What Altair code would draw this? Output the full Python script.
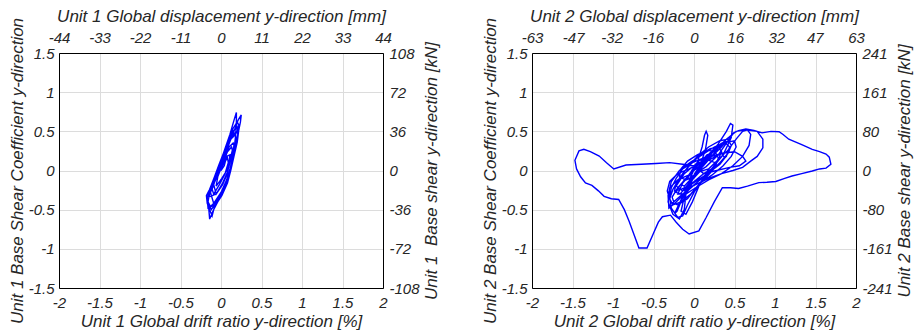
import altair as alt
import pandas as pd

# Hysteresis response, (drift ratio [%], base shear coefficient) in load order
u1_loop = [
    (0.00, 0.00), (0.04, 0.06), (0.06, 0.14), (0.03, 0.10), (-0.01, 0.00), (-0.04, -0.08),
    (-0.06, -0.20), (0.01, -0.10), (0.07, 0.00), (0.10, 0.10), (0.11, 0.20),
    (0.07, 0.18), (0.02, 0.08), (-0.02, 0.00), (-0.06, -0.10), (-0.09, -0.18),
    (-0.06, -0.30), (0.02, -0.18), (0.07, -0.06), (0.10, 0.06), (0.14, 0.20), (0.16, 0.32),
    (0.15, 0.35), (0.10, 0.30), (0.05, 0.18), (0.00, 0.05), (-0.05, -0.08), (-0.10, -0.20),
    (-0.13, -0.28),
    (-0.09, -0.42), (0.00, -0.28), (0.07, -0.12), (0.11, 0.02), (0.15, 0.18), (0.19, 0.34),
    (0.21, 0.46), (0.19, 0.50), (0.14, 0.44), (0.08, 0.30), (0.02, 0.14), (-0.04, 0.00),
    (-0.10, -0.14), (-0.15, -0.28), (-0.17, -0.38),
    (-0.12, -0.50), (-0.02, -0.36), (0.06, -0.20), (0.11, -0.04), (0.14, 0.12), (0.18, 0.30),
    (0.21, 0.46), (0.22, 0.58), (0.20, 0.62), (0.15, 0.54), (0.09, 0.38), (0.03, 0.22),
    (-0.03, 0.06), (-0.08, -0.08), (-0.14, -0.24), (-0.17, -0.36), (-0.16, -0.48),
    (-0.08, -0.44), (0.02, -0.28), (0.09, -0.10), (0.13, 0.08), (0.16, 0.26), (0.18, 0.44),
    (0.19, 0.60), (0.19, 0.74), (0.16, 0.64), (0.11, 0.46), (0.05, 0.28), (-0.01, 0.10),
    (-0.07, -0.06), (-0.13, -0.22), (-0.17, -0.36), (-0.15, -0.50), (-0.14, -0.62),
    (-0.10, -0.52), (-0.02, -0.36), (0.06, -0.18), (0.12, 0.00), (0.16, 0.18), (0.20, 0.36),
    (0.22, 0.52), (0.24, 0.62), (0.25, 0.71), (0.21, 0.64), (0.16, 0.50), (0.10, 0.34),
    (0.04, 0.16), (-0.03, -0.02), (-0.09, -0.16), (-0.15, -0.26), (-0.18, -0.32),
    (-0.17, -0.42), (-0.11, -0.58),
    (-0.08, -0.46), (0.01, -0.32), (0.08, -0.16), (0.12, 0.00), (0.16, 0.18), (0.19, 0.34),
    (0.21, 0.48), (0.20, 0.56), (0.15, 0.50), (0.09, 0.34), (0.03, 0.18), (-0.03, 0.02),
    (-0.09, -0.14), (-0.14, -0.28), (-0.16, -0.40), (-0.13, -0.46),
    (-0.05, -0.38), (0.03, -0.24), (0.09, -0.08), (0.12, 0.06), (0.16, 0.22), (0.19, 0.38),
    (0.18, 0.46), (0.12, 0.40), (0.06, 0.24), (0.00, 0.08), (-0.06, -0.08), (-0.12, -0.22),
    (-0.15, -0.34),
    (-0.06, -0.30), (0.02, -0.16), (0.08, -0.02), (0.11, 0.12), (0.14, 0.26), (0.13, 0.30),
    (0.08, 0.24), (0.03, 0.12), (-0.02, 0.00), (-0.07, -0.12), (-0.11, -0.24), (-0.09, -0.30),
    (-0.02, -0.18), (0.05, -0.04), (0.09, 0.10), (0.08, 0.16), (0.03, 0.08), (-0.01, 0.00),
]

u2_loop = [
    # small cycles around the origin
    (0.00, 0.00), (0.05, 0.04), (0.10, 0.10), (0.08, 0.14), (0.02, 0.08),
    (-0.04, -0.02), (-0.08, -0.08), (-0.05, -0.12), (0.02, -0.06), (0.10, 0.05),
    (0.18, 0.14), (0.22, 0.22), (0.16, 0.20), (0.06, 0.08), (-0.04, -0.04),
    (-0.12, -0.12), (-0.16, -0.18), (-0.12, -0.20), (-0.03, -0.10), (0.08, 0.04),
    (0.20, 0.16), (0.28, 0.26), (0.32, 0.32), (0.25, 0.28), (0.12, 0.14),
    (0.00, 0.02), (-0.10, -0.10), (-0.18, -0.20), (-0.22, -0.28), (-0.17, -0.30),
    (-0.06, -0.16), (0.08, 0.02), (0.22, 0.18), (0.34, 0.30), (0.40, 0.38),
    (0.33, 0.34), (0.18, 0.20), (0.04, 0.06), (-0.08, -0.08), (-0.20, -0.22),
    (-0.27, -0.34), (-0.25, -0.40), (-0.14, -0.30),
    (0.10, -0.10), (0.22, 0.02), (0.30, 0.14), (0.34, 0.24), (0.30, 0.30),
    (0.20, 0.28), (0.08, 0.20), (-0.04, 0.08), (-0.14, -0.04), (-0.22, -0.16),
    (-0.24, -0.26), (-0.16, -0.24), (-0.04, -0.18),
    (0.08, -0.10), (0.20, -0.02), (0.32, 0.10), (0.42, 0.22), (0.46, 0.32),
    (0.42, 0.40), (0.32, 0.38), (0.18, 0.30), (0.04, 0.18), (-0.08, 0.04),
    (-0.18, -0.10), (-0.26, -0.24), (-0.30, -0.36), (-0.26, -0.44), (-0.16, -0.40),
    (-0.04, -0.30),
    (0.08, -0.16), (0.22, -0.06), (0.36, 0.06), (0.46, 0.18), (0.52, 0.30),
    (0.50, 0.38), (0.40, 0.36), (0.26, 0.26), (0.12, 0.16), (-0.02, 0.10),
    (-0.14, 0.02), (-0.22, -0.10), (-0.28, -0.22),
    (-0.30, -0.34), (-0.28, -0.48), (-0.20, -0.60), (-0.14, -0.58), (-0.08, -0.44),
    (0.00, -0.28), (0.10, -0.12), (0.22, 0.00), (0.32, 0.08), (0.38, 0.16),
    (0.34, 0.22), (0.22, 0.18), (0.08, 0.10), (-0.06, 0.02), (-0.20, -0.04),
    (-0.30, -0.14), (-0.33, -0.26), (-0.29, -0.40), (-0.20, -0.44), (-0.08, -0.36),
    (0.04, -0.20), (0.16, -0.08), (0.26, 0.04), (0.30, 0.16), (0.26, 0.24),
    (0.16, 0.26), (0.04, 0.20), (-0.08, 0.12), (-0.16, 0.02), (-0.18, -0.08),
    (-0.10, -0.12), (0.00, -0.08),
    (-0.05, -0.05), (-0.20, -0.12), (-0.30, -0.22), (-0.32, -0.40), (-0.26, -0.56),
    (-0.18, -0.62), (-0.12, -0.50), (-0.10, -0.30), (-0.02, -0.12), (0.10, 0.02),
    # tall narrow loops
    (-0.05, -0.10), (0.04, 0.10), (0.10, 0.30), (0.13, 0.45), (0.15, 0.50),
    (0.17, 0.45), (0.14, 0.26), (0.08, 0.08), (0.00, -0.06), (-0.08, -0.20),
    (-0.18, -0.42), (-0.24, -0.55), (-0.21, -0.52), (-0.12, -0.30), (0.02, -0.02),
    (0.16, 0.16), (0.30, 0.34), (0.40, 0.50), (0.45, 0.60), (0.48, 0.58),
    (0.46, 0.42), (0.36, 0.20), (0.20, 0.00), (0.05, -0.14), (-0.10, -0.28),
    (-0.24, -0.42), (-0.31, -0.48), (-0.32, -0.32), (-0.28, -0.14), (-0.18, 0.00),
    (-0.05, 0.10), (0.10, 0.20), (0.25, 0.30), (0.38, 0.36), (0.44, 0.30),
    (0.40, 0.18), (0.28, 0.06), (0.12, -0.04), (-0.02, -0.16), (-0.12, -0.34),
    (-0.16, -0.52), (-0.10, -0.56), (-0.02, -0.40), (0.06, -0.20), (0.18, 0.02),
    (0.30, 0.14),
    # medium loops towards positive drift
    (0.42, 0.26), (0.52, 0.40), (0.60, 0.50), (0.66, 0.52), (0.70, 0.46),
    (0.68, 0.32), (0.60, 0.18), (0.48, 0.06), (0.34, -0.04), (0.18, -0.12),
    (0.02, -0.22), (-0.10, -0.30), (-0.20, -0.30), (-0.14, -0.16), (0.00, 0.00),
    (0.16, 0.12), (0.34, 0.22), (0.50, 0.24), (0.60, 0.18), (0.64, 0.12),
    (0.56, 0.06), (0.44, 0.04), (0.28, 0.00), (0.12, -0.04), (0.00, 0.06),
    # large cycle
    (-0.14, 0.08), (-0.30, 0.10), (-0.47, 0.09), (-0.65, 0.08), (-0.84, 0.07),
    (-0.99, 0.02), (-1.08, 0.10), (-1.17, 0.185), (-1.28, 0.24), (-1.36, 0.27),
    (-1.42, 0.25), (-1.47, 0.13), (-1.45, 0.02), (-1.40, -0.08), (-1.34, -0.16),
    (-1.26, -0.19), (-1.18, -0.26), (-1.11, -0.33), (-1.02, -0.36), (-0.93, -0.37),
    (-0.86, -0.50), (-0.80, -0.65), (-0.74, -0.82), (-0.68, -0.99), (-0.58, -0.99),
    (-0.50, -0.80), (-0.44, -0.66), (-0.39, -0.59), (-0.29, -0.57), (-0.22, -0.66),
    (-0.14, -0.75), (-0.06, -0.81), (0.06, -0.77), (0.15, -0.60), (0.25, -0.40),
    (0.35, -0.22), (0.45, -0.22), (0.55, -0.23), (0.66, -0.20), (0.80, -0.155),
    (0.90, -0.15), (1.01, -0.14), (1.12, -0.10), (1.21, -0.07), (1.33, -0.04),
    (1.46, -0.006), (1.55, 0.02), (1.63, 0.03), (1.69, 0.08), (1.67, 0.17),
    (1.63, 0.21), (1.55, 0.24), (1.46, 0.27), (1.33, 0.33), (1.17, 0.40),
    (1.10, 0.46), (1.05, 0.495), (0.95, 0.50), (0.84, 0.48), (0.74, 0.51),
    (0.64, 0.53), (0.55, 0.51), (0.49, 0.48), (0.42, 0.38), (0.30, 0.20),
    (0.15, 0.05), (0.00, -0.05),
    # inner loop and return
    (0.20, 0.20), (0.40, 0.40), (0.52, 0.50), (0.64, 0.52), (0.78, 0.50),
    (0.85, 0.40), (0.85, 0.29), (0.78, 0.18), (0.70, 0.12), (0.60, 0.04),
    (0.48, 0.00), (0.34, -0.04), (0.18, -0.10), (0.02, -0.18), (-0.14, -0.26),
    (-0.22, -0.20), (-0.12, -0.04), (0.02, 0.08), (0.16, 0.14), (0.26, 0.10),
    (0.18, 0.02), (0.05, -0.02),
]

drift_ticks = [-2, -1.5, -1, -0.5, 0, 0.5, 1, 1.5, 2]
coef_ticks = [-1.5, -1, -0.5, 0, 0.5, 1, 1.5]
u1_mm_ticks = [-44, -33, -22, -11, 0, 11, 22, 33, 44]
u1_kn_ticks = [-108, -72, -36, 0, 36, 72, 108]
u2_mm_ticks = [-63, -47, -32, -16, 0, 16, 32, 47, 63]
u2_kn_ticks = [-241, -161, -80, 0, 80, 161, 241]

TEXT = "#262626"
LABEL = "'' + datum.value"


def panel(loop, unit, mm_ticks, kn_ticks, kn_title):
    df = pd.DataFrame(loop, columns=["drift", "coef"])
    df["step"] = range(len(df))

    curve = alt.Chart(df).mark_line(color="#0000ff", strokeWidth=1.4).encode(
        x=alt.X("drift:Q",
                scale=alt.Scale(domain=[-2, 2], nice=False, zero=False),
                axis=alt.Axis(orient="bottom", values=drift_ticks, labelExpr=LABEL,
                              labelPadding=7, titlePadding=3,
                              title=f"Unit {unit} Global drift ratio y-direction [%]")),
        y=alt.Y("coef:Q",
                scale=alt.Scale(domain=[-1.5, 1.5], nice=False, zero=False),
                axis=alt.Axis(orient="left", values=coef_ticks, labelExpr=LABEL,
                              labelPadding=5, titlePadding=2,
                              title=f"Unit {unit} Base Shear Coefficient y-direction")),
        order="step:Q",
    )

    # secondary axes in physical units
    units = pd.DataFrame({"mm": [0], "kn": [0]})
    secondary = alt.Chart(units).mark_point(opacity=0).encode(
        x=alt.X("mm:Q",
                scale=alt.Scale(domain=[mm_ticks[0], mm_ticks[-1]], nice=False, zero=False),
                axis=alt.Axis(orient="top", values=mm_ticks, grid=False, labelExpr=LABEL,
                              labelPadding=8, titlePadding=5,
                              title=f"Unit {unit} Global displacement y-direction [mm]")),
        y=alt.Y("kn:Q",
                scale=alt.Scale(domain=[kn_ticks[0], kn_ticks[-1]], nice=False, zero=False),
                axis=alt.Axis(orient="right", values=kn_ticks, grid=False, labelExpr=LABEL,
                              labelPadding=6, titlePadding=4,
                              titleAngle=270, titleBaseline="top", title=kn_title)),
    )

    return alt.layer(curve, secondary).resolve_scale(x="independent", y="independent").properties(
        width=324, height=235
    )


left = panel(u1_loop, 1, u1_mm_ticks, u1_kn_ticks, "Unit 1\u00a0 Base shear y-direction [kN]")
right = panel(u2_loop, 2, u2_mm_ticks, u2_kn_ticks, "Unit 2 Base shear y-direction [kN]")

chart = alt.hconcat(left, right, spacing=40).properties(
    background="white",
    padding={"left": 7, "top": 6, "right": 4, "bottom": 2},
).configure_view(
    stroke="black", strokeWidth=1
).configure_axis(
    labelFont="Liberation Sans", titleFont="Liberation Sans",
    labelFontSize=15, titleFontSize=17,
    labelFontStyle="italic", titleFontStyle="italic", titleFontWeight="normal",
    labelColor=TEXT, titleColor=TEXT,
    labelFlush=False, labelOverlap=False,
    domainColor="black", domainWidth=1,
    ticks=False,
    gridColor="#dcdcdc", gridWidth=1,
)

chart.save("out.html", embed_options={"renderer": "svg", "actions": False})
